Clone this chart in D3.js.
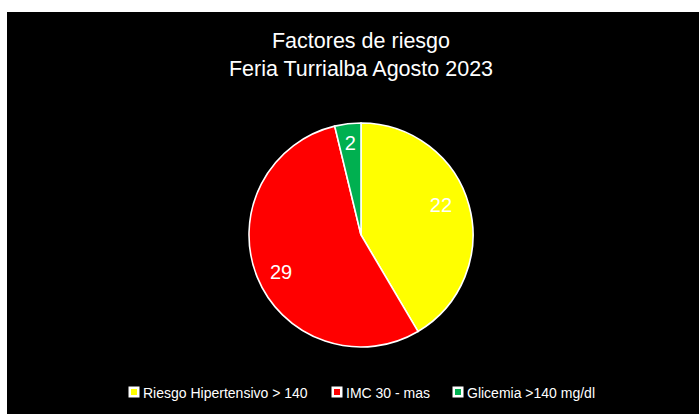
<!DOCTYPE html>
<html>
<head>
<meta charset="utf-8">
<script src="https://cdn.jsdelivr.net/npm/d3@7"></script>
<style>
  body { margin: 0; background: #fff; }
  svg { display: block; }
</style>
</head>
<body>
<div id="chart"></div>
<script>
'use strict';

// data
var categories = ['Riesgo Hipertensivo > 140', 'IMC 30 - mas', 'Glicemia >140 mg/dl'];
var values = [22, 29, 2];
var colors = ['#ffff00', '#ff0000', '#00b050'];
var titleLines = ['Factores de riesgo', 'Feria Turrialba Agosto 2023'];

drawChart();

function drawChart() {
	var WIDTH = 699,
		HEIGHT = 414;

	var svg = d3.select('#chart').append('svg')
		.attr('width', WIDTH)
		.attr('height', HEIGHT);

	// black chart area
	svg.append('rect')
		.attr('x', 7)
		.attr('y', 12)
		.attr('width', WIDTH - 7)
		.attr('height', HEIGHT - 12)
		.attr('fill', '#000');

	// title
	svg.selectAll('.title')
		.data(titleLines)
		.enter().append('text')
			.attr('class', 'title')
			.attr('x', 361)
			.attr('y', function(d, i) { return 48 + i * 28; })
			.attr('text-anchor', 'middle')
			.attr('fill', '#fff')
			.style('font-family', 'Liberation Sans, Arial, sans-serif')
			.style('font-size', '21.5px')
			.text(function(d) { return d; });

	// pie
	var cx = 361, cy = 235, r = 112;
	var pie = d3.pie().sort(null).value(function(d) { return d; });
	var arc = d3.arc().innerRadius(0).outerRadius(r);
	var arcs = pie(values);

	var g = svg.append('g')
		.attr('transform', 'translate(' + cx + ',' + cy + ')');

	g.selectAll('path')
		.data(arcs)
		.enter().append('path')
			.attr('d', arc)
			.attr('fill', function(d, i) { return colors[i]; })
			.attr('stroke', '#fff')
			.attr('stroke-width', 1.6);

	// data labels (radius factor + small vertical nudge)
	var labelPos = [[0.74, -8], [0.77, 5], [0.8, -3]];
	g.selectAll('.lbl')
		.data(arcs)
		.enter().append('text')
			.attr('class', 'lbl')
			.attr('x', function(d, i) {
				var a = (d.startAngle + d.endAngle) / 2;
				return Math.sin(a) * r * labelPos[i][0];
			})
			.attr('y', function(d, i) {
				var a = (d.startAngle + d.endAngle) / 2;
				return -Math.cos(a) * r * labelPos[i][0] + labelPos[i][1];
			})
			.attr('dy', '0.35em')
			.attr('text-anchor', 'middle')
			.attr('fill', '#fff')
			.style('font-family', 'Liberation Sans, Arial, sans-serif')
			.style('font-size', '20px')
			.text(function(d) { return d.value; });

	// legend
	var legendX = [128, 331, 452];
	var legend = svg.selectAll('.legend')
		.data(categories)
		.enter().append('g')
			.attr('class', 'legend')
			.attr('transform', function(d, i) { return 'translate(' + legendX[i] + ',396)'; });

	legend.append('rect')
		.attr('x', 0.5)
		.attr('y', -9.5)
		.attr('width', 11)
		.attr('height', 11)
		.attr('fill', '#fff');

	legend.append('rect')
		.attr('x', 3)
		.attr('y', -7)
		.attr('width', 6)
		.attr('height', 6)
		.attr('fill', function(d, i) { return colors[i]; });

	legend.append('text')
		.attr('x', 15)
		.attr('y', 0)
		.attr('dy', '0.15em')
		.attr('fill', '#fff')
		.style('font-family', 'Liberation Sans, Arial, sans-serif')
		.style('font-size', '14px')
		.text(function(d) { return d; });
}
</script>
</body>
</html>
